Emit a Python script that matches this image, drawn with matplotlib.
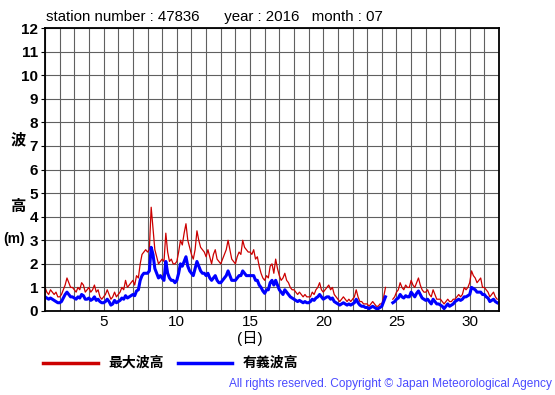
import matplotlib
matplotlib.use('Agg')
import matplotlib.pyplot as plt
import numpy as np

plt.rcParams['font.family'] = ['Liberation Sans', 'Noto Sans CJK JP', 'DejaVu Sans']

# 3-hourly values, one row per day (1..31 July 2016), metres
hmax = [
    1.0, 0.8, 0.7, 0.9, 0.8, 0.7, 0.8, 0.6,
    0.6, 0.7, 0.9, 1.1, 1.4, 1.2, 1.0, 1.0,
    0.9, 0.8, 1.0, 0.9, 1.2, 1.1, 0.8, 0.9,
    1.0, 0.8, 0.9, 1.1, 0.8, 0.9, 0.6, 0.5,
    0.6, 0.7, 0.9, 0.7, 0.5, 0.6, 0.8, 0.6,
    0.7, 0.8, 1.0, 0.9, 1.3, 1.0, 1.1, 1.2,
    1.3, 1.1, 1.5, 1.4, 2.0, 2.4, 2.5, 2.6,
    2.5, 2.6, 4.4, 3.5, 2.6, 2.3, 2.0, 2.1,
    2.2, 2.1, 3.3, 2.5, 2.1, 2.2, 2.0, 2.0,
    2.1, 2.5, 3.0, 2.8, 3.3, 3.7, 3.0, 2.7,
    2.4, 2.2, 2.6, 3.4, 3.0, 2.7, 2.6, 2.5,
    2.3, 2.6, 2.3, 2.0, 2.4, 2.6, 2.2, 2.1,
    2.0, 2.2, 2.4, 2.6, 3.0, 2.6, 2.2, 2.1,
    2.0, 2.3, 2.5, 2.4, 3.0, 2.7, 2.6, 2.5,
    2.5, 2.4, 2.6, 2.2, 2.3, 1.9, 1.6, 1.4,
    1.3, 1.5, 1.4, 1.9, 2.0, 1.6, 2.2, 1.8,
    1.5, 1.3, 1.4, 1.6, 1.3, 1.2, 1.0, 0.9,
    0.9, 0.8, 0.7, 0.8, 0.7, 0.6, 0.7, 0.6,
    0.6, 0.6, 0.8, 0.7, 0.9, 1.0, 1.2, 0.9,
    0.8, 0.9, 1.0, 1.1, 0.9, 1.0, 0.7, 0.6,
    0.5, 0.4, 0.5, 0.6, 0.5, 0.4, 0.5, 0.4,
    0.5, 0.6, 0.9, 0.6, 0.4, 0.4, 0.3, 0.3,
    0.3, 0.2, 0.3, 0.4, 0.3, 0.2, 0.2, 0.3,
    0.3, 0.6, 1.0, np.nan, np.nan, np.nan, 0.5, 0.6,
    0.8, 0.9, 1.2, 1.0, 0.9, 1.1, 1.0, 1.0,
    1.3, 1.1, 1.0, 1.2, 1.4, 1.1, 0.9, 0.8,
    0.8, 0.9, 0.7, 0.6, 0.9, 0.7, 0.5, 0.5,
    0.5, 0.4, 0.3, 0.4, 0.5, 0.4, 0.4, 0.5,
    0.5, 0.6, 0.7, 0.6, 0.7, 1.0, 0.9, 1.0,
    1.2, 1.7, 1.5, 1.4, 1.2, 1.3, 1.4, 1.0,
    1.0, 0.9, 0.8, 0.6, 0.7, 0.8, 0.6, 0.5,
]

hsig = [
    0.6, 0.55, 0.5, 0.55, 0.5, 0.45, 0.4, 0.35,
    0.35, 0.4, 0.55, 0.7, 0.8, 0.7, 0.6, 0.6,
    0.55, 0.5, 0.6, 0.55, 0.7, 0.65, 0.5, 0.5,
    0.55, 0.45, 0.5, 0.6, 0.45, 0.5, 0.4, 0.35,
    0.35, 0.4, 0.5, 0.4, 0.25, 0.3, 0.45, 0.35,
    0.4, 0.45, 0.55, 0.5, 0.65, 0.55, 0.6, 0.65,
    0.7, 0.65, 0.85, 0.9, 1.3, 1.5, 1.6, 1.6,
    1.6, 1.7, 2.7, 2.4, 1.8, 1.6, 1.4, 1.5,
    1.4, 1.3, 2.1, 1.6, 1.4, 1.3, 1.3, 1.2,
    1.3, 1.6, 2.0, 1.9, 2.1, 2.3, 1.9, 1.7,
    1.6, 1.5, 1.8, 2.1, 1.9, 1.7, 1.6, 1.6,
    1.5, 1.6, 1.4, 1.3, 1.4, 1.5, 1.3, 1.2,
    1.2, 1.3, 1.4, 1.5, 1.7, 1.5, 1.3, 1.3,
    1.3, 1.4, 1.5, 1.5, 1.7, 1.6, 1.5, 1.5,
    1.5, 1.5, 1.5, 1.3, 1.3, 1.1, 1.0, 0.85,
    0.75, 0.9, 0.9, 1.2, 1.3, 1.1, 1.3, 1.1,
    0.9, 0.8, 0.7, 0.9, 0.8, 0.7, 0.6, 0.55,
    0.5, 0.45, 0.4, 0.45, 0.4, 0.35, 0.4, 0.35,
    0.35, 0.4, 0.5, 0.45, 0.55, 0.6, 0.7, 0.6,
    0.5, 0.55, 0.6, 0.6, 0.5, 0.55, 0.4, 0.35,
    0.3, 0.25, 0.3, 0.35, 0.3, 0.25, 0.3, 0.25,
    0.3, 0.35, 0.5, 0.35, 0.25, 0.2, 0.2, 0.15,
    0.15, 0.1, 0.15, 0.2, 0.15, 0.1, 0.1, 0.15,
    0.2, 0.4, 0.6, np.nan, np.nan, np.nan, 0.35, 0.4,
    0.5, 0.55, 0.7, 0.6, 0.55, 0.65, 0.6, 0.6,
    0.8, 0.7, 0.6, 0.75, 0.85, 0.7, 0.55, 0.5,
    0.45, 0.5, 0.4, 0.3, 0.5, 0.4, 0.3, 0.3,
    0.25, 0.2, 0.1, 0.2, 0.3, 0.2, 0.25, 0.3,
    0.4, 0.45, 0.5, 0.45, 0.5, 0.6, 0.6, 0.65,
    0.7, 1.0, 0.95, 0.9, 0.8, 0.8, 0.8, 0.7,
    0.7, 0.6, 0.55, 0.4, 0.45, 0.5, 0.4, 0.35,
]

per_day = 8
t = 1 + np.arange(len(hmax)) / per_day

fig = plt.figure(figsize=(5.55, 3.95), dpi=100)
ax = fig.add_axes([45/555, 84/395, 454/555, 283/395])

ax.plot(t, hmax, color='#cc0000', lw=0.9)
ax.plot(t, hsig, color='#0000ff', lw=2.2)

ax.set_xlim(1, 32)
ax.set_ylim(0, 12)
ax.set_xticks(range(1, 33), minor=True)
ax.set_xticks([5, 10, 15, 20, 25, 30])
ax.set_yticks(range(0, 13))
ax.grid(True, which='both', color='#606060', lw=0.8)
ax.tick_params(axis='x', which='both', length=0, labelsize=11, pad=3)
ax.tick_params(axis='y', length=3, labelsize=11, pad=2)
for lab in ax.get_yticklabels():
    lab.set_fontweight('bold')
for s in ax.spines.values():
    s.set_linewidth(1.3)

fig.text(46/555, 1 - 17/395, 'station number : 47836      year : 2016   month : 07',
         fontsize=10.8, va='center', ha='left')

fig.text(18/555, 1 - 140/395, '波', fontsize=11, fontweight='bold', ha='center', va='center')
fig.text(18/555, 1 - 207/395, '高', fontsize=11, fontweight='bold', ha='center', va='center')
fig.text(14/555, 1 - 239/395, '(m)', fontsize=10, fontweight='bold', ha='center', va='center')
fig.text(250/555, 1 - 338/395, '(日)', fontsize=11, ha='center', va='center')

# legend
fig.add_artist(plt.Line2D([43/555, 98/555], [1 - 363/395] * 2, color='#cc0000', lw=2.5))
fig.text(108/555, 1 - 363/395, '最大波高', fontsize=10, fontweight='bold', va='center')
fig.add_artist(plt.Line2D([178/555, 232/555], [1 - 363/395] * 2, color='#0000ff', lw=2.5))
fig.text(243/555, 1 - 363/395, '有義波高', fontsize=10, fontweight='bold', va='center')

fig.text(552/555, 1 - 384/395, 'All rights reserved. Copyright © Japan Meteorological Agency',
         fontsize=8.6, color='#4a4aff', ha='right', va='center')

fig.savefig('out.png', dpi=100)
